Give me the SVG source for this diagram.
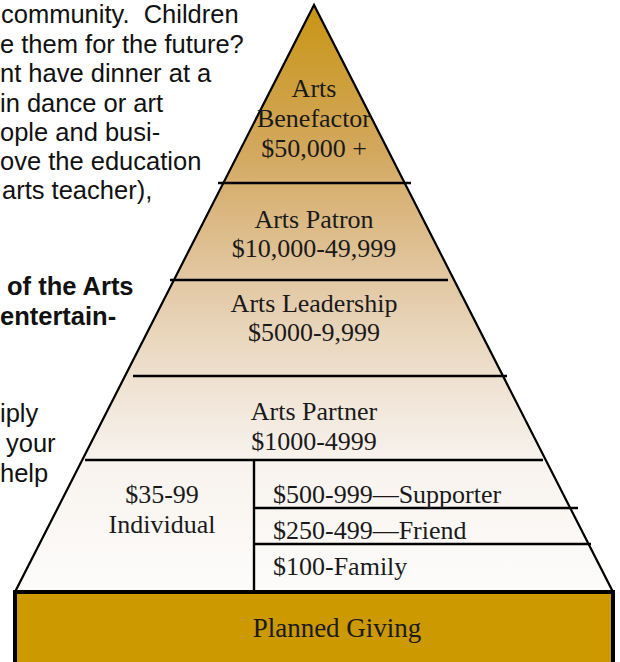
<svg xmlns="http://www.w3.org/2000/svg" width="620" height="662" viewBox="0 0 620 662">
<defs>
<linearGradient id="pyr" gradientUnits="userSpaceOnUse" x1="0" y1="5" x2="0" y2="592">
<stop offset="0" stop-color="#C89514"/>
<stop offset="0.25" stop-color="#D3A85E"/>
<stop offset="0.36" stop-color="#DBB882"/>
<stop offset="0.47" stop-color="#E2C8A3"/>
<stop offset="0.63" stop-color="#EEE0CF"/>
<stop offset="0.78" stop-color="#F8F3EE"/>
<stop offset="1" stop-color="#FDFCFB"/>
</linearGradient>
<style>
.body{font-family:"Liberation Sans",Arial,sans-serif;font-size:25.5px;fill:#111;white-space:pre}
.bold{font-weight:bold}
.tier{font-family:"Liberation Serif","Times New Roman",serif;font-size:26px;fill:#1a1a1a}
.mid{text-anchor:middle}
.div{stroke:#000;stroke-width:2.4;fill:none}
</style>
</defs>
<rect width="620" height="662" fill="#fff"/>
<g id="side-text" class="body">
<text x="1" y="23" xml:space="preserve">community.  Children</text>
<text x="0" y="53">e them for the future?</text>
<text x="0" y="82">nt have dinner at a</text>
<text x="0" y="112">in dance or art</text>
<text x="0" y="141">ople and busi-</text>
<text x="0" y="170">ove the education</text>
<text x="2" y="199">arts teacher),</text>
<text class="bold" x="7" y="295">of the Arts</text>
<text class="bold" x="0" y="325">entertain-</text>
<text x="0" y="422">iply</text>
<text x="6" y="452">your</text>
<text x="0" y="482">help</text>
</g>
<g id="pyramid">
<polygon points="314,5 15,592 613,592" fill="url(#pyr)" stroke="#000" stroke-width="2.2" stroke-linejoin="miter"/>
</g>
<g id="dividers">
<line class="div" x1="218" y1="183" x2="411" y2="183"/>
<line class="div" x1="170" y1="280" x2="448" y2="280"/>
<line class="div" x1="133" y1="376" x2="507" y2="376"/>
<line class="div" x1="85" y1="460" x2="543" y2="460"/>
<line class="div" x1="254" y1="460" x2="254" y2="592"/>
<line class="div" x1="254" y1="508" x2="578" y2="508"/>
<line class="div" x1="254" y1="544" x2="591" y2="544"/>
</g>
<g id="benefactor" class="tier mid">
<text x="314" y="97">Arts</text>
<text x="314" y="127">Benefactor</text>
<text x="314" y="157">$50,000 +</text>
</g>
<g id="patron" class="tier mid">
<text x="314" y="228">Arts Patron</text>
<text x="314" y="257">$10,000-49,999</text>
</g>
<g id="leadership" class="tier mid">
<text x="314" y="312">Arts Leadership</text>
<text x="314" y="341">$5000-9,999</text>
</g>
<g id="partner" class="tier mid">
<text x="314" y="420">Arts Partner</text>
<text x="314" y="450">$1000-4999</text>
</g>
<g id="individual" class="tier mid">
<text x="162" y="503">$35-99</text>
<text x="162" y="533">Individual</text>
</g>
<g id="supporter" class="tier">
<text x="273" y="503">$500-999—Supporter</text>
</g>
<g id="friend" class="tier">
<text x="273" y="539">$250-499—Friend</text>
</g>
<g id="family" class="tier">
<text x="273" y="575">$100-Family</text>
</g>
<g id="planned-giving">
<rect x="15" y="592" width="598" height="80" fill="#CC9900" stroke="#000" stroke-width="4"/>
<text class="tier mid" x="337" y="637" style="font-size:27px">Planned Giving</text>
</g>
</svg>
